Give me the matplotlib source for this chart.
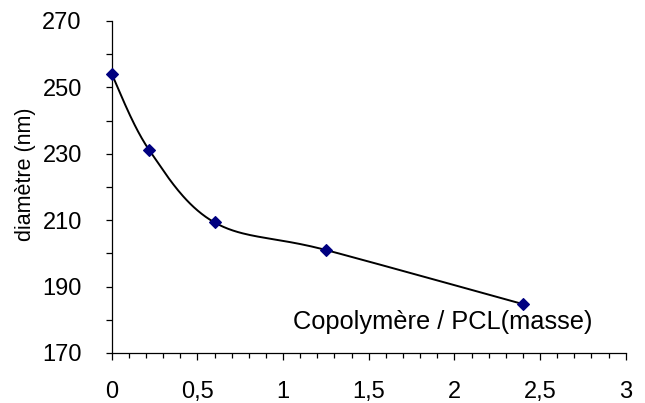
import numpy as np
import matplotlib
matplotlib.use("Agg")
import matplotlib.pyplot as plt
from matplotlib.ticker import MultipleLocator, FuncFormatter

# Data
ratio = [0.0, 0.22, 0.6, 1.25, 2.4]
diameter = [254.0, 231.0, 209.3, 201.0, 184.7]
x_ticks = [0, 0.5, 1, 1.5, 2, 2.5, 3]
y_ticks = [170, 190, 210, 230, 250, 270]
x_label = "Copolymère / PCL(masse)"
y_label = "diamètre (nm)"

plt.rcParams['font.family'] = ['Liberation Sans', 'DejaVu Sans']

fig = plt.figure(figsize=(6.45, 4.03), dpi=100)
ax = fig.add_axes([0.1732, 0.1243, 0.9701 - 0.1732, 0.9481 - 0.1243])


def excel_smooth(xs, ys, n=40):
    pts = np.column_stack([xs, ys]).astype(float)
    ext = np.vstack([pts[0], pts, pts[-1]])
    out = []
    t = np.linspace(0, 1, n)[:, None]
    for i in range(1, len(ext) - 2):
        p0, p1, p2, p3 = ext[i - 1], ext[i], ext[i + 1], ext[i + 2]
        c1 = p1 + (p2 - p0) / 6.0
        c2 = p2 - (p3 - p1) / 6.0
        seg = ((1 - t) ** 3) * p1 + 3 * ((1 - t) ** 2) * t * c1 + 3 * (1 - t) * t ** 2 * c2 + t ** 3 * p2
        out.append(seg if i == 1 else seg[1:])
    arr = np.vstack(out)
    return arr[:, 0], arr[:, 1]


sx, sy = excel_smooth(ratio, diameter)
ax.plot(sx, sy, color='black', lw=1.4, zorder=2)
ax.plot(ratio, diameter, linestyle='none', marker='D', ms=6.0,
        mfc='#000080', mec='#000080', mew=0.8, zorder=3, clip_on=False)

ax.set_xlim(0, 3)
ax.set_ylim(170, 270)
ax.set_xticks(x_ticks)
ax.set_yticks(y_ticks)
ax.xaxis.set_minor_locator(MultipleLocator(0.1))
ax.yaxis.set_minor_locator(MultipleLocator(10))
ax.xaxis.set_major_formatter(FuncFormatter(lambda v, p: ('%g' % v).replace('.', ',')))

for s in ['top', 'right']:
    ax.spines[s].set_visible(False)
for s in ['left', 'bottom']:
    ax.spines[s].set_linewidth(0.9)
    ax.spines[s].set_color('black')

ax.tick_params(axis='y', which='major', direction='out', length=4.5, width=0.9, labelsize=17, pad=17)
ax.tick_params(axis='y', which='minor', direction='out', length=4.5, width=0.9)
ax.tick_params(axis='x', which='major', direction='out', length=5, width=0.9, labelsize=17, pad=15.5)
ax.tick_params(axis='x', which='minor', direction='out', length=3.5, width=0.9)

ax.text(1.93, 179.4, x_label, fontsize=18.3, ha='center', va='center')
fig.text(25 / 645, 1 - 174 / 403, y_label, fontsize=15.5, rotation=90, ha='center', va='center')

fig.savefig("out.png", dpi=100)
